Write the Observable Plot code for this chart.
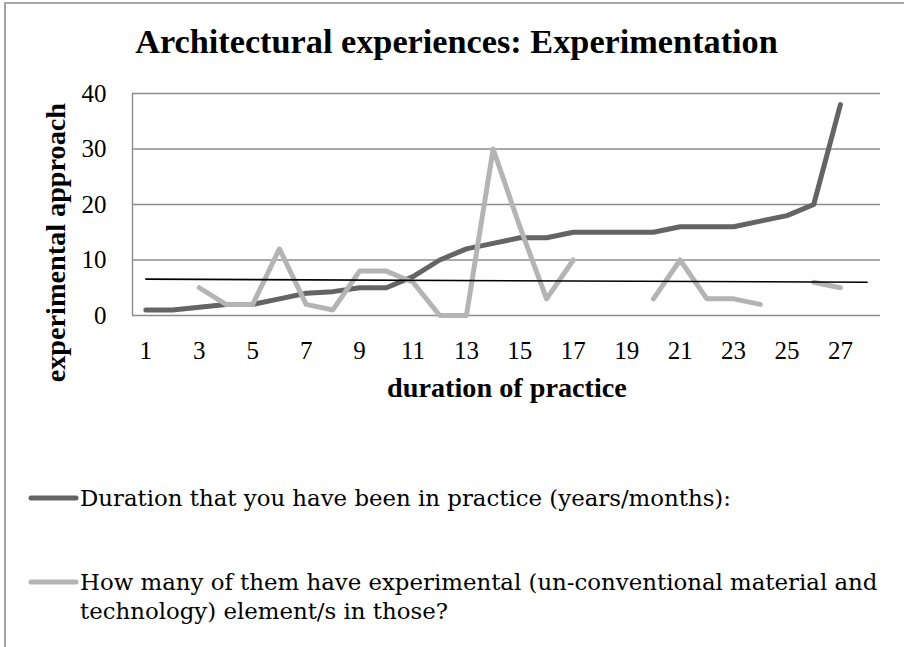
<!DOCTYPE html>
<html><head><meta charset="utf-8">
<script src="https://cdn.jsdelivr.net/npm/d3@7"></script>
<script src="https://cdn.jsdelivr.net/npm/@observablehq/plot@0.6"></script>
<style>
body{margin:0;background:#fff}
#c{position:relative;width:904px;height:647px;overflow:hidden;background:#fff}
</style>
</head><body><div id="c"></div>
<script>
// ---- data ----
const practice = [1,2,3,4,5,6,7,8,9,10,11,12,13,14,15,16,17,18,19,20,21,22,23,24,25,26,27];
const duration = [1,1,1.5,2,2,3,4,4.3,5,5,7,10,12,13,14,14,15,15,15,15,16,16,16,17,18,20,38];
const experimental = [null,null,5,2,2,12,2,1,8,8,6,0,0,30,16,3,10,null,null,3,10,3,3,2,null,6,5];
const trendX = [1,28];
const trendY = [6.55,6.0];
const xTicks = [1,3,5,7,9,11,13,15,17,19,21,23,25,27];
const yTicks = [0,10,20,30,40];
const titleText = "Architectural experiences: Experimentation";
const xLabel = "duration of practice";
const yLabel = "experimental approach";
const seriesNames = [
  "Duration that you have been in practice (years/months):",
  "How many of them have experimental (un-conventional material and technology) element/s in those?"
];
const seriesColors = ["#646464","#b4b4b4"];

const FONT = "'Liberation Serif','Times New Roman',serif";
const LFONT = "'DejaVu Serif','Liberation Serif',serif";
const rows = practice.map((p,i)=>({p, d:duration[i], e:experimental[i]}));
const trend = trendX.map((x,i)=>({x, y:trendY[i]}));

const svgEl = Plot.plot({
  width:904, height:647,
  marginLeft:132, marginRight:24, marginTop:93, marginBottom:332,
  style:{fontFamily:FONT, fontSize:"25px", color:"#000", background:"transparent", overflow:"visible"},
  x:{domain:[0.5,28.5], ticks:xTicks, tickSize:0, tickPadding:26, label:null, tickFormat:d=>String(d)},
  y:{domain:[0,40], ticks:yTicks, tickSize:0, tickPadding:26, label:null},
  marks:[
    Plot.ruleY(yTicks,{stroke:"#8c8c8c", strokeWidth:1.4}),
    Plot.ruleX([0.5],{stroke:"#8c8c8c", strokeWidth:1.4}),
    Plot.line(rows,{x:"p", y:"d", stroke:seriesColors[0], strokeWidth:5, strokeLinecap:"round", strokeLinejoin:"round"}),
    Plot.line(rows,{x:"p", y:"e", stroke:seriesColors[1], strokeWidth:5, strokeLinecap:"round", strokeLinejoin:"round"}),
    Plot.line(trend,{x:"x", y:"y", stroke:"#000", strokeWidth:1.6})
  ]
});
document.getElementById("c").appendChild(svgEl);
const svg = d3.select(svgEl);

// outer chart frame (left and top edges visible)
svg.append("path").attr("d","M5,647V3H904").attr("fill","none").attr("stroke","#8c8c8c").attr("stroke-width",1.6);

function fit(sel, fs, target) {
  sel.attr("font-size", fs);
  const w = sel.node().getComputedTextLength();
  sel.attr("font-size", fs*target/w);
  return fs*target/w;
}

// title
const t = svg.append("text").text(titleText)
  .attr("x",456.5).attr("y",53).attr("text-anchor","middle")
  .attr("font-family",FONT).attr("font-weight","bold").attr("fill","#000");
fit(t, 31, 643);

// axis titles
const xt = svg.append("text").text(xLabel).attr("x",507).attr("y",397).attr("text-anchor","middle")
  .attr("font-family",FONT).attr("font-weight","bold").attr("fill","#000");
const axFs = fit(xt, 25, 240);
svg.append("text").text(yLabel).attr("transform","translate(65,103) rotate(-90)").attr("text-anchor","end")
  .attr("font-family",FONT).attr("font-weight","bold").attr("font-size",axFs).attr("fill","#000");

// legend
const dashY = [498, 582];
const probe = svg.append("text").attr("font-family",LFONT).attr("text-anchor","start")
  .text("How many of them have experimental (un-conventional material and");
const legendFs = fit(probe, 24, 798);
probe.attr("font-size", legendFs);
seriesNames.forEach((name,i)=>{
  svg.append("line").attr("x1",31).attr("x2",76).attr("y1",dashY[i]).attr("y2",dashY[i])
    .attr("stroke",seriesColors[i]).attr("stroke-width",5).attr("stroke-linecap","round");
  const words = name.split(" ");
  let line = [], lines = [];
  for (const w of words) {
    const test = line.concat([w]).join(" ");
    probe.text(test);
    if (probe.node().getComputedTextLength() > 806 && line.length) { lines.push(line.join(" ")); line=[w]; }
    else line.push(w);
  }
  lines.push(line.join(" "));
  lines.forEach((ln,j)=>{
    svg.append("text").text(ln).attr("x",80).attr("y",dashY[i]+8+j*29).attr("text-anchor","start")
      .attr("font-family",LFONT).attr("font-size",legendFs).attr("fill","#000");
  });
});
probe.remove();
</script>
</body></html>
